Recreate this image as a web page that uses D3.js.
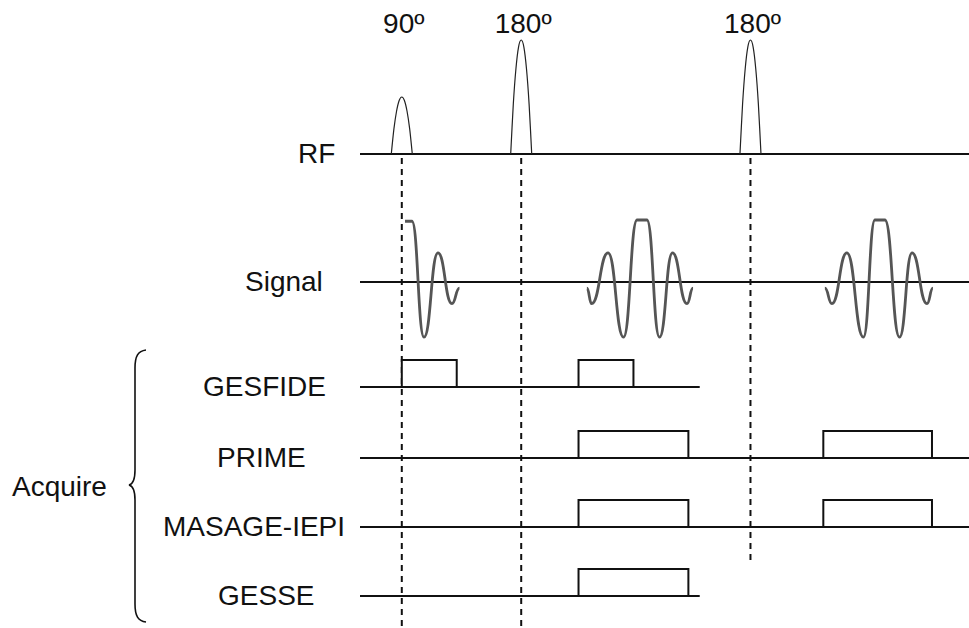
<!DOCTYPE html>
<html><head><meta charset="utf-8">
<script src="https://cdn.jsdelivr.net/npm/d3@7"></script>
<style>
body{margin:0;background:#fff}
svg{display:block}
text{font-family:"Liberation Sans",Arial,Helvetica,sans-serif;font-size:28px;fill:#111}
</style>
</head><body>
<svg id="c" width="969" height="628"></svg>
<script>
// ---------- data ----------
const rowNames   = ["RF", "Signal", "GESFIDE", "PRIME", "MASAGE-IEPI", "GESSE"];
const rowEnds    = [47.5, 47.5, 24.95, 47.5, 47.5, 24.95];      // time at which each baseline stops
const pulseTimes  = [0, 10, 29.2];
const pulseLabels = ["90º", "180º", "180º"];
const pulseAmps   = [0.5, 1, 1];
const pulseShape  = [[-1,0],[-0.75,0.44],[-0.5,0.75],[-0.25,0.94],[0,1],[0.25,0.94],[0.5,0.75],[0.75,0.44],[1,0]];
const fidT   = [0.27, 0.85, 1.86, 3.03, 4.2, 4.83];
const fidA   = [0.98, 0.98, -0.89, 0.47, -0.35, -0.1];
const echo1T = [15.5, 15.9, 17.27, 18.57, 19.7, 20.53, 21.58, 22.67, 23.88, 24.39];
const echo1A = [-0.1, -0.35, 0.47, -0.89, 1, 1, -0.89, 0.47, -0.35, -0.1];
const echo2T = [35.43, 36.02, 37.27, 38.66, 39.62, 40.46, 41.68, 42.73, 43.98, 44.48];
const echo2A = [-0.1, -0.35, 0.47, -0.89, 1, 1, -0.89, 0.47, -0.35, -0.1];
const gesfideWindows = [[0, 4.6], [14.8, 19.4]];
const primeWindows   = [[14.8, 24.0], [35.3, 44.4]];
const masageWindows  = [[14.8, 24.0], [35.3, 44.4]];
const gesseWindows   = [[14.8, 24.0]];
const dashTimes = [0, 10, 29.2];

// ---------- layout ----------
const svg = d3.select("#c");
const x = d3.scaleLinear().domain([-3.5, 47.5]).range([360, 969]);
const rowY = d3.scaleOrdinal(rowNames, [154, 282, 387, 458, 527, 596]);
const rfAmp = d3.scaleLinear().domain([0, 1]).range([0, 114]);
const sigAmp = d3.scaleLinear().domain([0, 1]).range([0, 62]);
const labelX = [298, 245, 203, 217, 163, 218];
const pulseHalf = 0.88;
const boxH = 27;
const dashEnds = [628, 628, 565];

// dashed timing lines
svg.selectAll("line.dash").data(dashTimes).join("line")
  .attr("class", "dash")
  .attr("x1", d => x(d)).attr("x2", d => x(d))
  .attr("y1", rowY("RF") + 4).attr("y2", (d, i) => dashEnds[i])
  .attr("stroke", "#111").attr("stroke-width", 2)
  .attr("stroke-dasharray", "6,5");

// baselines
svg.selectAll("line.base").data(rowNames).join("line")
  .attr("class", "base")
  .attr("x1", x(-3.5)).attr("x2", (d, i) => x(rowEnds[i]))
  .attr("y1", d => rowY(d)).attr("y2", d => rowY(d))
  .attr("stroke", "#111").attr("stroke-width", 2);

// row labels
svg.selectAll("text.row").data(rowNames).join("text")
  .attr("class", "row")
  .attr("x", (d, i) => labelX[i]).attr("y", d => rowY(d) + 9)
  .text(d => d);

// RF pulses
const pulseLine = d3.line().curve(d3.curveCardinal.tension(0.2));
pulseTimes.forEach((t, i) => {
  const pts = pulseShape.map(([u, v]) => [x(t + u * pulseHalf), rowY("RF") - rfAmp(v * pulseAmps[i])]);
  svg.append("path").attr("d", pulseLine(pts))
    .attr("fill", "none").attr("stroke", "#222").attr("stroke-width", 1.2);
  svg.append("text").attr("x", x(t) + 2).attr("y", 33)
    .attr("text-anchor", "middle").text(pulseLabels[i]);
});

// signal waveforms
const sigLine = d3.line().curve(d3.curveBumpX)
  .x(d => x(d[0])).y(d => rowY("Signal") - sigAmp(d[1]));
[[fidT, fidA], [echo1T, echo1A], [echo2T, echo2A]].forEach(([T, A]) => {
  svg.append("path").attr("d", sigLine(T.map((t, i) => [t, A[i]])))
    .attr("fill", "none").attr("stroke", "#555").attr("stroke-width", 2.8)
    .attr("stroke-linejoin", "round");
});

// acquisition windows
[["GESFIDE", gesfideWindows], ["PRIME", primeWindows], ["MASAGE-IEPI", masageWindows], ["GESSE", gesseWindows]]
  .forEach(([name, wins]) => {
    svg.selectAll(null).data(wins).join("rect")
      .attr("x", d => x(d[0])).attr("width", d => x(d[1]) - x(d[0]))
      .attr("y", rowY(name) - boxH).attr("height", boxH)
      .attr("fill", "#fff").attr("stroke", "#111").attr("stroke-width", 2);
  });

// brace + Acquire
const b = d3.path();
b.moveTo(146, 350);
b.bezierCurveTo(138, 351, 135, 356, 135, 368);
b.lineTo(135, 470);
b.bezierCurveTo(135, 480, 133, 484, 129, 485);
b.bezierCurveTo(133, 486, 135, 490, 135, 500);
b.lineTo(135, 604);
b.bezierCurveTo(135, 616, 138, 621, 146, 622);
svg.append("path").attr("d", b.toString()).attr("fill", "none")
  .attr("stroke", "#111").attr("stroke-width", 1.6);
svg.append("text").attr("x", 12).attr("y", 496).text("Acquire");
</script>
</body></html>
